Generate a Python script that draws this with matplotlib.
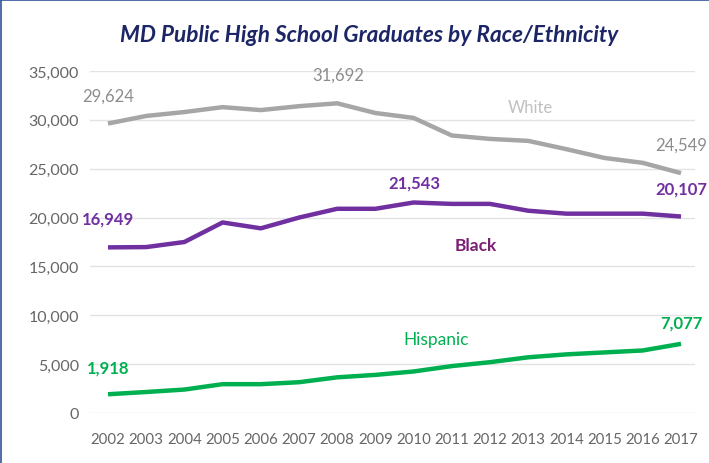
import matplotlib
matplotlib.use("Agg")
import matplotlib.pyplot as plt
from matplotlib.lines import Line2D
from matplotlib.ticker import FuncFormatter

years = list(range(2002, 2018))
white = [29624, 30400, 30800, 31300, 31000, 31400, 31692, 30700, 30200, 28400,
         28050, 27850, 27000, 26100, 25600, 24549]
black = [16949, 16980, 17500, 19500, 18900, 20000, 20900, 20900, 21543, 21400,
         21400, 20700, 20400, 20400, 20400, 20107]
hispanic = [1918, 2150, 2400, 2950, 2950, 3150, 3650, 3900, 4250, 4800,
            5200, 5700, 6000, 6200, 6400, 7077]

plt.rcParams['font.family'] = ['Lato', 'DejaVu Sans']

fig = plt.figure(figsize=(7.09, 4.64), dpi=100)
ax = fig.add_axes([90/709, 50/464, 605/709, 342/464])

c_white = '#a6a6a6'
c_black = '#7030a0'
c_hisp = '#00b050'

ax.plot(years, white, color=c_white, lw=3.2, solid_capstyle='butt', zorder=3)
ax.plot(years, black, color=c_black, lw=3.2, solid_capstyle='butt', zorder=3)
ax.plot(years, hispanic, color=c_hisp, lw=3.2, solid_capstyle='butt', zorder=3)

ax.set_xlim(2002 - 18/38.2, 2017 + 14/38.2)
ax.set_ylim(0, 35000)
ax.set_yticks(range(0, 35001, 5000))
ax.yaxis.set_major_formatter(FuncFormatter(lambda v, p: f"{int(v):,}"))
ax.set_xticks(years)
ax.grid(axis='y', color='#e3e3e3', lw=1)
ax.set_axisbelow(True)
for s in ax.spines.values():
    s.set_visible(False)
ax.tick_params(length=0, labelcolor='#666666')
ax.tick_params(axis='y', pad=8, labelsize=11.5)
ax.tick_params(axis='x', pad=14, labelsize=10.8)

def t(x, y, s, color, bold=False, size=12):
    ax.text(x, y, s, color=color, fontsize=size, ha='center', va='center',
            fontweight='bold' if bold else 'normal', clip_on=False)

t(2002.0, 32449, '29,624', '#8c8c8c', size=12)
t(2008.02, 34592, '31,692', '#8c8c8c', size=12)
t(2013.05, 31327, 'White', '#c0c0c0', size=12)
t(2017.0, 27449, '24,549', '#8c8c8c', size=12)
t(2002.0, 19898, '16,949', c_black, bold=True, size=12)
t(2010.01, 23571, '21,543', c_black, bold=True, size=12)
t(2017.0, 22959, '20,107', c_black, bold=True, size=12)
t(2011.63, 17143, 'Black', '#7a1f72', bold=True, size=12.5)
t(2010.59, 7551, 'Hispanic', c_hisp, size=12.5)
t(2002.0, 4694, '1,918', c_hisp, bold=True, size=12)
t(2017.0, 9286, '7,077', c_hisp, bold=True, size=12)

fig.text(369/709, 1 - 35/464, 'MD Public High School Graduates by Race/Ethnicity',
         color='#1c2566', fontsize=16.3, fontweight='bold', fontstyle='italic',
         ha='center', va='center')

fig.add_artist(Line2D([1/709, 1/709], [0, 1 - 1/464], transform=fig.transFigure,
                      color='#2f5597', lw=1.2))
fig.add_artist(Line2D([1/709, 1], [1 - 1/464, 1 - 1/464], transform=fig.transFigure,
                      color='#2f5597', lw=1.2))

fig.savefig('out.png', dpi=100)
